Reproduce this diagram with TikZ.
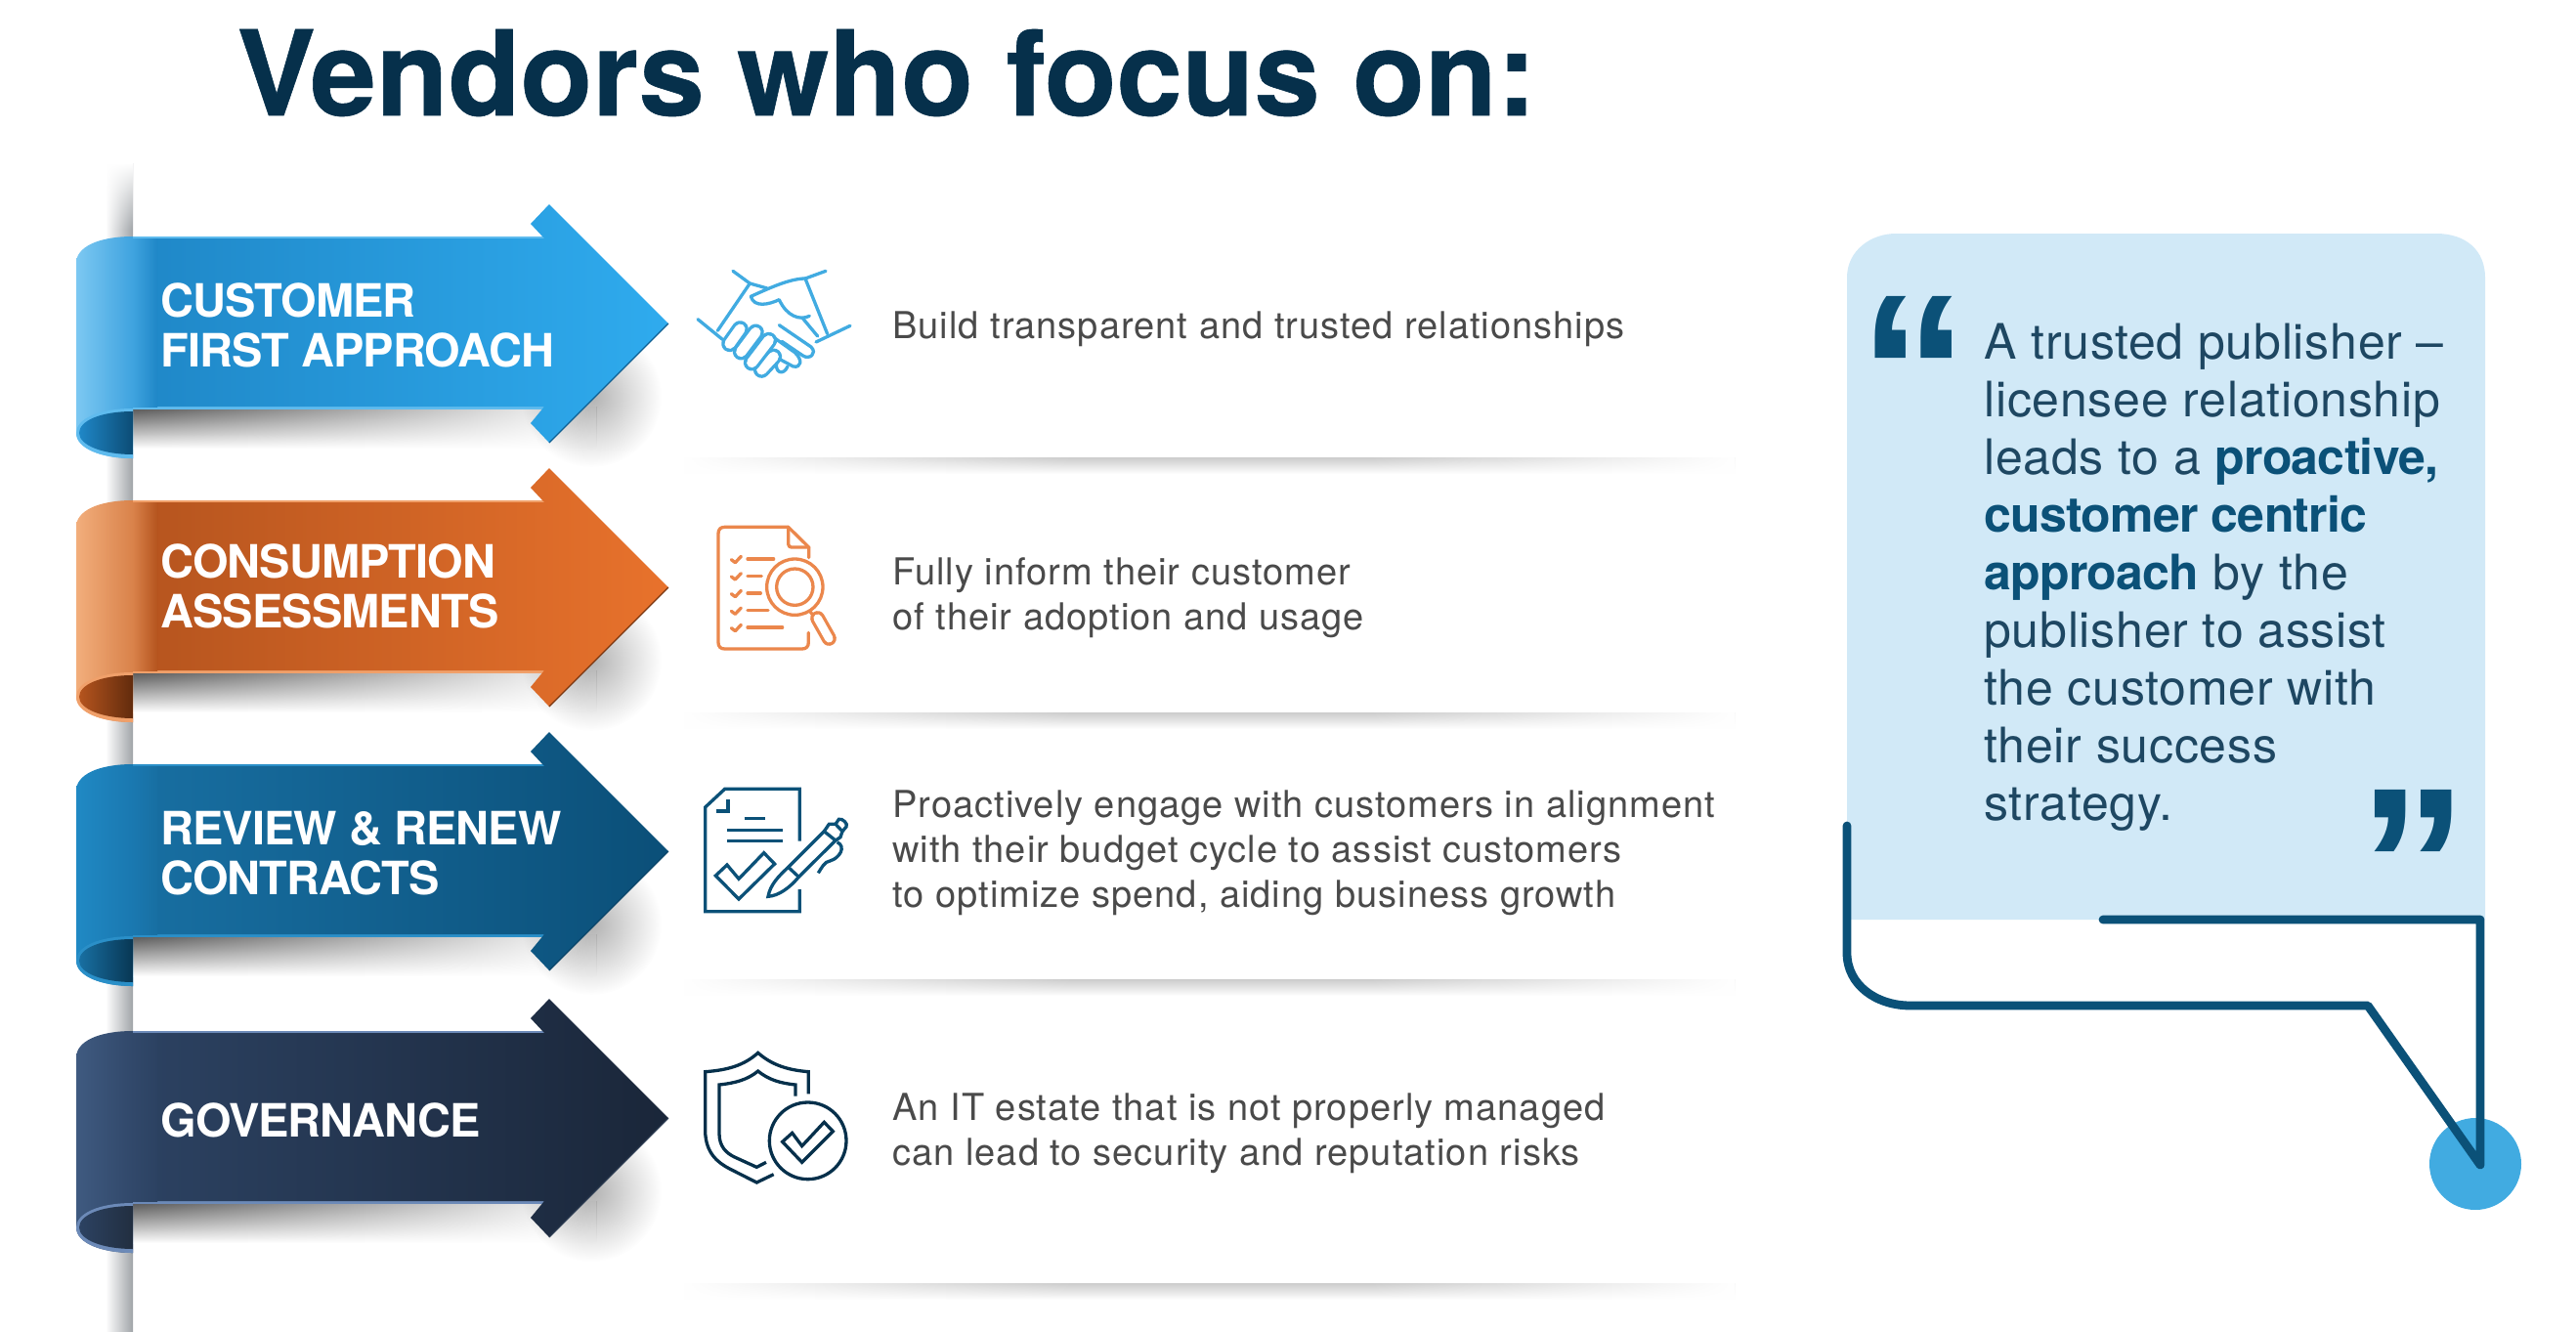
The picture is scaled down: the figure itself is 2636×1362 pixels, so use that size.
\documentclass[tikz,border=0pt]{standalone}
\usepackage{fontspec}
\setmainfont{TeX Gyre Heros}
\newfontfamily\titlefont[FakeBold=0.5]{TeX Gyre Heros}
\newfontfamily\ribbonfont[LetterSpace=-2]{TeX Gyre Heros}
\newfontfamily\bodyfont[LetterSpace=2.7]{TeX Gyre Heros}
\newfontfamily\quotefont[LetterSpace=1.5]{TeX Gyre Heros}
\newfontfamily\quotebold[LetterSpace=-1.5]{TeX Gyre Heros}
\newfontfamily\markfont{Liberation Sans}
\usetikzlibrary{positioning,fadings}

\definecolor{titleink}{HTML}{06304B}
\definecolor{bodyink}{HTML}{4A4A4A}
\definecolor{panelblue}{HTML}{D1E9F7}
\definecolor{panelline}{HTML}{0B5178}
\definecolor{panelink}{HTML}{1E4762}
\definecolor{panelspot}{HTML}{41ABE1}
\definecolor{wallshade}{HTML}{A0A4A8}
% ribbon colours: fold light, fold dark, face left, face right, curl, rim
\definecolor{skyA}{HTML}{7CC8F2}\definecolor{skyB}{HTML}{3FA3DF}\definecolor{skyC}{HTML}{1F87C7}\definecolor{skyD}{HTML}{2FABEE}\definecolor{skyE}{HTML}{0F5F92}\definecolor{skyF}{HTML}{5FBBEE}
\definecolor{rustA}{HTML}{F2AE7C}\definecolor{rustB}{HTML}{D9824A}\definecolor{rustC}{HTML}{B5541E}\definecolor{rustD}{HTML}{E8722C}\definecolor{rustE}{HTML}{7A3610}\definecolor{rustF}{HTML}{F0A06A}
\definecolor{seaA}{HTML}{2089C4}\definecolor{seaB}{HTML}{1A78B0}\definecolor{seaC}{HTML}{186FA2}\definecolor{seaD}{HTML}{0B4F78}\definecolor{seaE}{HTML}{0A4468}\definecolor{seaF}{HTML}{2A8FC8}
\definecolor{navyA}{HTML}{3F5A80}\definecolor{navyB}{HTML}{31486A}\definecolor{navyC}{HTML}{2C4262}\definecolor{navyD}{HTML}{1A2639}\definecolor{navyE}{HTML}{2A3A50}\definecolor{navyF}{HTML}{6C8AB8}

\tikzfading[name=soft spot, inner color=transparent!0, outer color=transparent!100]

\tikzset{
    title text/.style={anchor=base west, inner sep=0, font=\titlefont\bfseries\fontsize{60.4}{66}\selectfont, text=titleink},
    ribbon text/.style={anchor=west, inner sep=0, align=left, text=white, font=\ribbonfont\bfseries\fontsize{23.5}{25.5}\selectfont},
    body text/.style={anchor=west, inner sep=0, align=left, text=bodyink, font=\bodyfont\fontsize{19}{23}\selectfont},
    quote text/.style={anchor=north west, inner sep=0, align=left, text=panelink, font=\quotefont\fontsize{25}{29.5}\selectfont},
    quote mark/.style={anchor=center, inner sep=0, text=panelline, font=\markfont\bfseries\fontsize{112}{112}\selectfont},
    icon line/.style={line width=1.65pt, line cap=round, line join=round}
}

% name, centre height, colour set, text height, text
\newcommand{\ribbonarrow}[5]{
    \begin{scope}[shift={(0,#2)}]
        \shade[top color=black!68, bottom color=white] (136,85) rectangle (610,128);
        \fill[white, path fading=west] (136,85) rectangle (610,128);
        \fill[black, opacity=.3, path fading=soft spot] (605,75) circle (72);
        \shade[left color=#3A, right color=#3B] (136,-89) .. controls (100,-89) and (78,-78) .. (78,-62) -- (78,112) .. controls (78,128) and (104,138) .. (136,138) -- cycle;
        \fill[#3F] (136,87) .. controls (100,87) and (78,98) .. (78,112) .. controls (78,128) and (104,138) .. (136,138) -- cycle;
        \shade[left color=#3C, right color=#3E!80!black] (136,90) .. controls (102,90) and (81,100) .. (81,112) .. controls (81,125) and (106,134) .. (136,134) -- cycle;
        \fill[#3F] (136,-89) rectangle (557,88);
        \shade[left color=#3C, right color=#3D] (136,-87) -- (557,-87) -- (543,-102) -- (562,-122) -- (684,0) -- (562,122) -- (543,102) -- (557,85) -- (136,85) -- cycle;
        \shade[left color=#3B, right color=#3C] (136,-87) rectangle (161,85);
        \draw[#3E, line width=.6pt] (684,0) -- (562,122);
        \node[ribbon text] (#1) at (164,#4) {#5};
    \end{scope}
}

\begin{document}
\begin{tikzpicture}[x=.5pt, y=-.5pt]
    \useasboundingbox (0,0) rectangle (2636,1362);
    \fill[white] (0,0) rectangle (2636,1362);

    % wall shadow
    \shade[left color=white, right color=wallshade] (108,167) rectangle (136,1362);
    \fill[white, path fading=south] (106,167) rectangle (136,235);

    \node[title text] (title) at (242,118) {Vendors who focus on:};

    % separators
    \foreach \sepy in {468,729,1002,1313} {
        \shade[top color=black!20, bottom color=white] (700,\sepy) rectangle (1775,\sepy+17);
        \fill[white, path fading=east] (700,\sepy) rectangle (1100,\sepy+17);
        \fill[white, path fading=west] (1400,\sepy) rectangle (1775,\sepy+17);
    }

    \ribbonarrow{customer}{331}{sky}{2}{CUSTOMER\\FIRST APPROACH}
    \ribbonarrow{consumption}{601}{rust}{-1}{CONSUMPTION\\ASSESSMENTS}
    \ribbonarrow{review}{871}{sea}{2}{REVIEW \& RENEW\\CONTRACTS}
    \ribbonarrow{governance}{1144}{navy}{2}{GOVERNANCE}

    % handshake
    \begin{scope}[shift={(680,240)}, scale=1/3, icon line, draw=panelspot]
        \draw (210,112) -- (262,150) -- (315,165);
        \draw (262,150) -- (163,295);
        \draw (102,260) -- (178,322);
        \draw (495,112) -- (432,135) -- (500,305);
        \draw (570,280) -- (465,330);
        \draw (432,135) .. controls (385,135) and (320,165) .. (265,190) .. controls (275,225) and (320,215) .. (352,200) .. controls (375,250) and (415,265) .. (445,250);
        \draw (425,258) -- (470,312);
        \draw (352,278) -- (450,345) .. controls (470,365) and (445,385) .. (425,372) -- (360,328);
        \draw (330,312) -- (400,362) .. controls (425,385) and (420,410) .. (395,405) -- (345,378);
        \draw (345,385) .. controls (335,425) and (365,435) .. (378,405);
        \foreach \ax/\ay/\bx/\by in {298/415/335/375, 268/393/320/325, 235/360/280/300, 200/335/232/290}
            \draw[double=white, double distance=5.2pt] (\ax,\ay) -- (\bx,\by);
    \end{scope}

    % checklist
    \begin{scope}[shift={(680,240)}, scale=1/3, icon line, draw=rustD!85!white]
        \draw (443,992) -- (443,960) -- (380,898) -- (185,898) .. controls (172,898) and (165,905) .. (165,918) -- (165,1252) .. controls (165,1265) and (172,1272) .. (185,1272) -- (422,1272) .. controls (435,1272) and (442,1265) .. (442,1252) -- (442,1222);
        \draw (380,898) -- (380,950) .. controls (380,958) and (385,960) .. (390,960) -- (443,960);
        \foreach \cy/\cx in {998/335,1050/298,1103/295,1156/318,1208/362} {
            \draw (205,\cy) -- (217,\cy+9) -- (235,\cy-10);
            \draw (255,\cy-2) -- (\cx,\cy-2);
        }
        \draw (400,1082) circle (86);
        \draw (400,1082) circle (56);
        \draw (447,1157) -- (458,1172);
        \draw[double=white, double distance=4.2pt] (470,1178) -- (505,1240);
    \end{scope}

    % contract and pen
    \begin{scope}[shift={(680,780)}, scale=1/3, icon line, draw=panelline, line cap=butt, line join=miter]
        \draw (415,242) -- (415,82) -- (185,82) -- (125,138) -- (125,458) -- (415,458) -- (415,390);
        \draw (195,115) -- (195,150) -- (158,150);
        \draw (245,173) -- (310,173);
        \draw (192,208) -- (362,208);
        \draw (192,241) -- (362,241);
        \draw (157,348) -- (192,315) -- (228,358) -- (305,278) -- (338,312) -- (228,420) -- cycle;
        \draw (318,412) .. controls (325,375) and (350,350) .. (380,322) -- (490,212) -- (525,240) -- (412,352) .. controls (385,385) and (350,410) .. (318,412) -- cycle;
        \draw (380,322) -- (412,352);
        \draw (490,212) -- (505,190) -- (525,190) -- (546,212) -- (540,230) -- (525,240);
        \draw (525,190) -- (535,175) .. controls (545,170) and (565,190) .. (558,198) -- (546,212);
        \draw (530,245) .. controls (560,260) and (535,295) .. (510,302) .. controls (490,305) and (482,325) .. (472,340);
    \end{scope}

    % shield
    \begin{scope}[shift={(680,780)}, scale=1/3, icon line, draw=titleink, line cap=butt, line join=miter]
        \draw (442,1018) -- (442,950) .. controls (380,945) and (330,930) .. (287,892) .. controls (245,930) and (195,945) .. (125,950) -- (125,1130) .. controls (125,1200) and (165,1230) .. (200,1248) -- (283,1290) -- (335,1265);
        \draw (402,1025) -- (402,990) .. controls (355,985) and (320,975) .. (287,948) .. controls (255,975) and (215,985) .. (168,990) -- (168,1140) .. controls (168,1180) and (190,1200) .. (215,1212) -- (283,1243) -- (312,1228);
        \draw (440,1162) circle (118);
        \draw (362,1165) -- (392,1138) -- (422,1178) -- (490,1105) -- (517,1133) -- (422,1228) -- cycle;
    \end{scope}

    \node[body text] (customer note) at (913,337) {Build transparent and trusted relationships};
    \node[body text] (consumption note) at (913,612) {Fully inform their customer\\of their adoption and usage};
    \node[body text] (review note) at (913,873) {Proactively engage with customers in alignment\\with their budget cycle to assist customers\\to optimize spend, aiding business growth};
    \node[body text] (governance note) at (913,1160) {An IT estate that is not properly managed\\can lead to security and reputation risks};

    % quote panel
    \fill[panelblue] (1890,941) -- (1890,284) .. controls (1890,256) and (1915,239) .. (1940,239) -- (2493,239) .. controls (2523,239) and (2543,256) .. (2543,284) -- (2543,941) -- cycle;
    \node[quote text] (quote) at (2030,331) {A trusted publisher –\\licensee relationship\\leads to a {\quotebold\bfseries\color{panelline}proactive,}\\{\quotebold\bfseries\color{panelline}customer centric}\\{\quotebold\bfseries\color{panelline}approach} by the\\publisher to assist\\the customer with\\their success\\strategy.};
    \node[quote mark] (open mark) at (1958,380) {“};
    \node[quote mark] (close mark) at (2469,885) {”};

    \fill[panelspot] (2533,1191) circle (47);
    \draw[panelline, line width=4.4pt, line cap=round, line join=round] (1890,845) -- (1890,975) .. controls (1890,1008) and (1920,1029) .. (1955,1029) -- (2423,1029) -- (2538,1192) -- (2538,941) -- (2152,941);
\end{tikzpicture}
\end{document}
